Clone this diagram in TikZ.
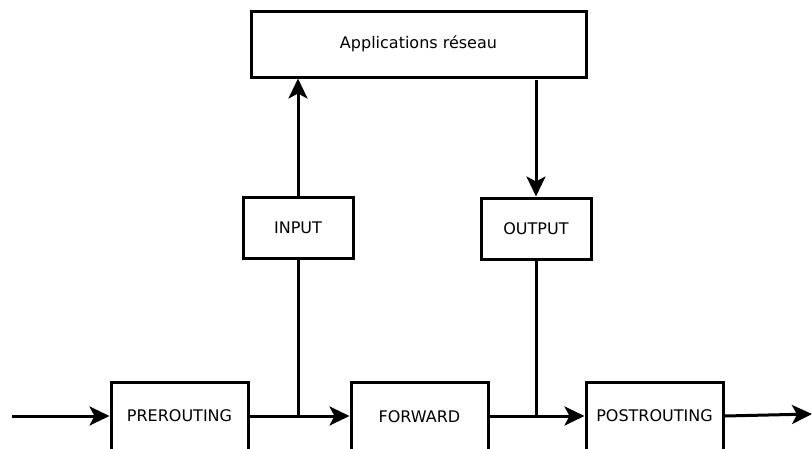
\documentclass[tikz,border=0pt]{standalone}
\usepackage{fontspec}
\setmainfont{DejaVu Sans}
\usetikzlibrary{arrows.meta}
\begin{document}
\begin{tikzpicture}[x=1pt,y=-1pt,
  box/.style={draw=black,line width=3pt,fill=white,inner sep=0pt,font=\fontsize{16}{19}\selectfont},
  conn/.style={line width=3pt},
  arr/.style={conn,-{Stealth[length=20pt,width=19pt,inset=5pt]}}]
\useasboundingbox (0,0) rectangle (812,448);
\begin{scope}
\clip (0,0) rectangle (812,448);
\node[box,minimum width=335pt,minimum height=66pt] (apps) at (418.5,44) {Applications réseau};
\node[box,minimum width=110pt,minimum height=61pt] (inp) at (298,227.5) {INPUT};
\node[box,minimum width=110pt,minimum height=61pt] (outp) at (536,228.5) {OUTPUT};
\node[box,minimum width=137pt,minimum height=72pt] (pre) at (179.5,418) {\raisebox{4pt}{PREROUTING}};
\node[box,minimum width=137pt,minimum height=72pt] (fwd) at (419.5,418) {\raisebox{2pt}{FORWARD}};
\node[box,minimum width=137pt,minimum height=72pt] (post) at (654.5,418) {\raisebox{4pt}{POSTROUTING}};
\coordinate (start) at (12,416);
\coordinate (finish) at (812,414);
\coordinate (j1) at (inp.south |- 0,416);
\coordinate (j2) at (outp.south |- 0,416);
\coordinate (aout) at (536,80);
\draw[arr] (start) -- (pre.west |- start);
\draw[arr] (pre.east |- start) -- (fwd.west |- start);
\draw[conn] (inp.south) -- (j1);
\draw[arr] (inp.north) -- (apps.south -| inp.north);
\draw[arr] (aout) -- (outp.north);
\draw[conn] (outp.south) -- (j2);
\draw[arr] (fwd.east |- start) -- (post.west |- start);
\draw[arr] (post.east |- start) -- (finish);
\end{scope}
\end{tikzpicture}
\end{document}
